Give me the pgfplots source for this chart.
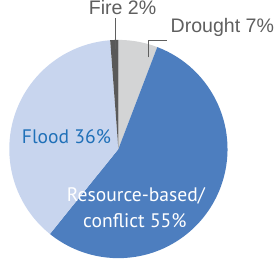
\documentclass[border=0pt]{standalone}
\usepackage{pgfplots}
\usepackage{pgfplotstable}
\pgfplotsset{compat=1.18}
\usepackage{fontspec}
\setmainfont{Liberation Sans}
\newfontfamily\myr{PT Sans}
\definecolor{fireC}{HTML}{595959}
\definecolor{droughtC}{HTML}{D3D4D5}
\definecolor{resC}{HTML}{4D7EBF}
\definecolor{floodC}{HTML}{C8D5EE}
\definecolor{floodT}{HTML}{1F70B8}
\definecolor{txtG}{HTML}{5F5F5F}
\pgfplotstableread{
label value
Drought 5.8
Resource 55.0
Flood 38.0
Fire 1.2
}\piedata
\begin{document}
\begin{tikzpicture}
\pgfplotstablegetelem{0}{value}\of\piedata \pgfmathsetmacro\vA{\pgfplotsretval}
\pgfplotstablegetelem{1}{value}\of\piedata \pgfmathsetmacro\vB{\pgfplotsretval}
\pgfplotstablegetelem{2}{value}\of\piedata \pgfmathsetmacro\vC{\pgfplotsretval}
\pgfplotstablegetelem{3}{value}\of\piedata \pgfmathsetmacro\vD{\pgfplotsretval}
\pgfmathsetmacro\aA{90}
\pgfmathsetmacro\aB{\aA-3.6*\vA}
\pgfmathsetmacro\aC{\aB-3.6*\vB}
\pgfmathsetmacro\aD{\aC-3.6*\vC}
\pgfmathsetmacro\aE{\aD-3.6*\vD}
\begin{axis}[
  x=1pt, y=1pt,
  xmin=0, xmax=274, ymin=0, ymax=259,
  hide axis,
  clip=true,
]
\fill[droughtC] (axis cs:115,107) -- ++(\aA:106pt) arc[start angle=\aA, end angle=\aB, radius=106pt] -- cycle;
\fill[resC] (axis cs:115,107) -- ++(\aB:106pt) arc[start angle=\aB, end angle=\aC, radius=106pt] -- cycle;
\fill[floodC] (axis cs:115,107) -- ++(\aC:106pt) arc[start angle=\aC, end angle=\aD, radius=106pt] -- cycle;
\fill[fireC] (axis cs:115,107) -- ++(\aD:106pt) arc[start angle=\aD, end angle=\aE, radius=106pt] -- cycle;
\draw[txtG, line width=0.9pt] (axis cs:111.7,234) -- (axis cs:111.7,204);
\draw[txtG, line width=0.9pt] (axis cs:144,196) -- (axis cs:144,212) -- (axis cs:162,212);
\node[anchor=base, text=txtG, font=\fontsize{19}{22}\selectfont, inner sep=0pt] at (axis cs:119,238) {Fire 2\%};
\node[anchor=base, text=txtG, font=\fontsize{19}{22}\selectfont, inner sep=0pt] at (axis cs:216,220) {Drought 7\%};
\node[anchor=base, text=floodT, font=\myr\fontsize{19}{22}\selectfont, inner sep=0pt] at (axis cs:64.5,112) {Flood 36\%};
\node[anchor=base, text=white, font=\myr\fontsize{19}{22}\selectfont, inner sep=0pt] at (axis cs:132,56) {Resource-based/};
\node[anchor=base, text=white, font=\myr\fontsize{19}{22}\selectfont, inner sep=0pt] at (axis cs:131,31) {conflict 55\%};
\end{axis}
\end{tikzpicture}
\end{document}
